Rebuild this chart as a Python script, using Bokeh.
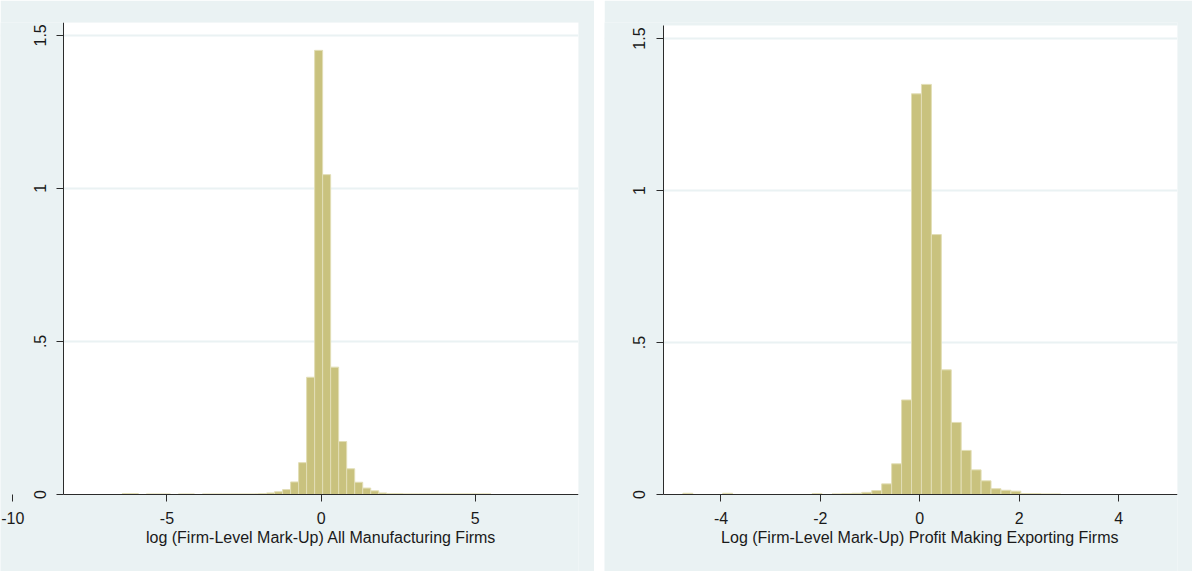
from bokeh.plotting import figure
from bokeh.layouts import row
from bokeh.models import FixedTicker, Range1d, LinearAxis, BoxAnnotation, Grid
from bokeh.core.properties import value
from bokeh.embed import file_html
from bokeh.resources import INLINE
import numpy as np

# ---------------- data ----------------
# Left panel: all manufacturing firms (density histogram)
left_bin_start = -6.45
left_bin_width = 0.26
left_density = [
    0.003, 0.003, 0.0, 0.002, 0.002, 0.002, 0.0, 0.002, 0.002, 0.0,
    0.002, 0.002, 0.002, 0.002, 0.002, 0.002, 0.002, 0.003, 0.005, 0.009,
    0.016, 0.041, 0.104, 0.383, 1.451, 1.045, 0.416, 0.173, 0.084, 0.040,
    0.021, 0.012, 0.005, 0.003, 0.003, 0.002, 0.002, 0.002, 0.002, 0.002,
    0.002, 0.002, 0.002, 0.002, 0.002, 0.002,
]
# Stata also draws a tick at -10, outside the plot region
left_xticks = [-10, -5, 0, 5]
left_xlabels = ["-10", "-5", "0", "5"]
left_title = "log (Firm-Level Mark-Up) All Manufacturing Firms"

# Right panel: profit making exporting firms
right_bin_start = -4.767
right_bin_width = 0.2
right_density = [
    0.004, 0.0, 0.0, 0.0, 0.004, 0.0, 0.0, 0.0, 0.0, 0.0,
    0.0, 0.0, 0.0, 0.003, 0.0, 0.002, 0.003, 0.004, 0.007, 0.013,
    0.035, 0.101, 0.311, 1.318, 1.349, 0.855, 0.410, 0.237, 0.145, 0.081,
    0.045, 0.019, 0.014, 0.011, 0.003, 0.003, 0.002, 0.002,
]
right_xticks = [-4, -2, 0, 2, 4]
right_xlabels = ["-4", "-2", "0", "2", "4"]
right_title = "Log (Firm-Level Mark-Up) Profit Making Exporting Firms"

yticks = [0, 0.5, 1, 1.5]
ylabels = ["0", ".5", "1", "1.5"]

# ---------------- styling ----------------
BG = "#EAF2F3"
BAR_FILL = "#C9C27E"
BAR_LINE = "#E2DEB6"
AXIS = "#2b2b2b"
TXT = "#1a1a1a"
FONT = "Liberation Sans Narrow, Arial Narrow, Liberation Sans, sans-serif"


def style_axis(ax):
    ax.axis_line_color = AXIS
    ax.axis_line_width = 1
    ax.major_tick_line_color = AXIS
    ax.major_tick_in = 0
    ax.major_tick_out = 7
    ax.minor_tick_line_color = None
    ax.major_label_text_font = FONT
    ax.major_label_text_font_size = "16px"
    ax.major_label_text_color = TXT


def overrides(ticks, labels):
    return {float(t): s for t, s in zip(ticks, labels)}


def make_panel(width, right_border, xview, xregion, yview, ytop, title_y,
               bin_start, bin_width, dens, xticks, xlabels, title):
    """The frame covers the whole panel so that Stata-like out-of-region ticks
    can be drawn; the white plot region is x in xregion, 0 <= y <= ytop."""
    xmin, xmax = xregion
    p = figure(width=width, height=571, output_backend="svg",
               toolbar_location=None,
               x_range=Range1d(*xview), y_range=Range1d(*yview),
               x_axis_location=None, y_axis_location=None,
               min_border_left=0, min_border_right=right_border,
               min_border_top=22, min_border_bottom=0)
    p.center = []                   # drop default grids
    p.background_fill_color = BG
    p.border_fill_color = BG
    p.outline_line_color = None
    p.add_layout(BoxAnnotation(left=xmin, bottom=0, top=ytop, fill_color="white",
                               fill_alpha=1.0, line_color=None, level="image"))
    p.add_layout(Grid(dimension=1, ticker=FixedTicker(ticks=yticks[1:]),
                      grid_line_color=BG, grid_line_width=2, level="underlay"))

    dens = np.asarray(dens)
    lefts = bin_start + bin_width * np.arange(len(dens))
    p.quad(left=lefts, right=lefts + bin_width, top=dens, bottom=0,
           fill_color=BAR_FILL, line_color=BAR_LINE, line_width=1)

    # x axis line (only along the plot region)
    xline = LinearAxis(ticker=FixedTicker(ticks=[]), fixed_location=0,
                       bounds=(xmin, xmax))
    style_axis(xline)
    xline.major_tick_line_color = None
    xline.major_label_text_font_size = "0px"
    p.add_layout(xline, "below")
    # x ticks and labels
    xt = LinearAxis(ticker=FixedTicker(ticks=xticks), fixed_location=0,
                    major_label_overrides=overrides(xticks, xlabels))
    style_axis(xt)
    xt.axis_line_color = None
    xt.major_label_standoff = 11
    p.add_layout(xt, "below")
    # y axis
    ya = LinearAxis(ticker=FixedTicker(ticks=yticks), fixed_location=xmin,
                    bounds=(0, ytop if ytop is not None else yview[1]),
                    major_label_overrides=overrides(yticks, ylabels),
                    major_label_orientation="vertical")
    style_axis(ya)
    ya.major_label_standoff = 11
    p.add_layout(ya, "left")

    # x axis title, centred on x = 0 like Stata's
    p.text(x=[0], y=[title_y], text=[title], text_align="center",
           text_baseline="top", text_font=value(FONT), text_font_size="16px",
           text_color=TXT)
    return p


p1 = make_panel(594, 16, (-10.4, 8.35), (-8.35, 8.35), (-0.2516, 1.542), None,
                -0.1143, left_bin_start, left_bin_width, left_density,
                left_xticks, left_xlabels, left_title)
p2 = make_panel(588, 15, (-6.344, 5.185), (-5.157, 5.185), (-0.2533, 1.5526),
                1.543, -0.115, right_bin_start, right_bin_width, right_density,
                right_xticks, right_xlabels, right_title)

layout = row(p1, p2, spacing=10)
open("out.html", "w").write(file_html(layout, INLINE))
